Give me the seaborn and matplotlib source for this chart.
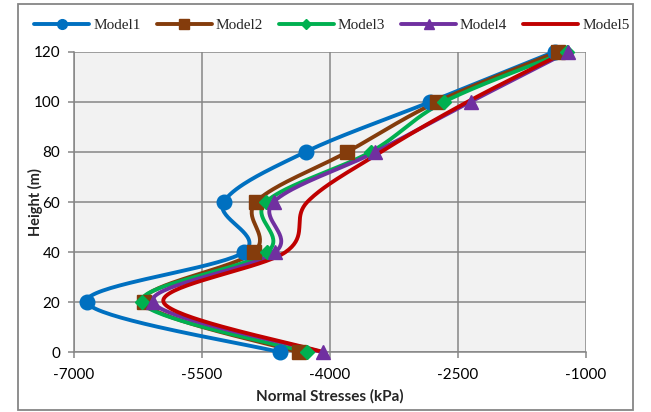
import numpy as np
import matplotlib
matplotlib.use("Agg")
import matplotlib.pyplot as plt
from matplotlib.lines import Line2D
from matplotlib.patches import Rectangle
import seaborn as sns

# Normal stresses along the height for each model
heights = [0, 20, 40, 60, 80, 100, 120]
model1 = [-4580, -6850, -5010, -5245, -4285, -2820, -1365]
model2 = [-4365, -6180, -4890, -4865, -3795, -2740, -1325]
model3 = [-4270, -6205, -4735, -4750, -3520, -2660, -1225]
model4 = [-4085, -6075, -4640, -4660, -3465, -2350, -1205]
model5 = [-4070, -5950, -4520, -4265, -3400, -2385, -1230]

series_names = ["Model1", "Model2", "Model3", "Model4", "Model5"]
series_values = [model1, model2, model3, model4, model5]
colors = ["#0070C0", "#843C0C", "#00B050", "#7030A0", "#C00000"]
markers = ["o", "s", "D", "^", None]
marker_sizes = [10.5, 10.5, 7, 10.5, 0]

x_ticks = [-7000, -5500, -4000, -2500, -1000]
y_ticks = [0, 20, 40, 60, 80, 100, 120]


def smooth_path(xs, ys, n=40):
    """Smoothed polyline through the points (cubic Bezier, Catmull-Rom tangents)."""
    p = np.column_stack([xs, ys]).astype(float)
    padded = np.vstack([p[0], p, p[-1]])
    out = []
    t = np.linspace(0, 1, n)[:, None]
    for i in range(len(p) - 1):
        p0, p1, p2, p3 = padded[i], padded[i + 1], padded[i + 2], padded[i + 3]
        c1 = p1 + (p2 - p0) / 6.0
        c2 = p2 - (p3 - p1) / 6.0
        seg = ((1 - t) ** 3) * p1 + 3 * ((1 - t) ** 2) * t * c1 + 3 * (1 - t) * t ** 2 * c2 + t ** 3 * p2
        out.append(seg if i == 0 else seg[1:])
    seg = np.vstack(out)
    return seg[:, 0], seg[:, 1]


sns.set_theme(style="white")
plt.rcParams["font.family"] = ["Lato", "DejaVu Sans"]

fig = plt.figure(figsize=(6.51, 4.12), dpi=100)
ax = fig.add_axes([74 / 651, 1 - 352.3 / 412, 511.7 / 651, 300.6 / 412])
ax.set_facecolor("#F2F2F2")

for name, vals, col, mk, ms in zip(series_names, series_values, colors, markers, marker_sizes):
    sx, sy = smooth_path(vals, heights)
    sns.lineplot(x=sx, y=sy, sort=False, estimator=None, color=col, linewidth=2.8,
                 ax=ax, legend=False, zorder=3)
    ax.lines[-1].set_clip_on(False)
    if mk is not None:
        ax.plot(vals, heights, linestyle="none", marker=mk, markersize=ms,
                color=col, markeredgecolor=col, zorder=4, clip_on=False)

ax.set_xlim(-7000, -1000)
ax.set_ylim(0, 120)
ax.set_xticks(x_ticks)
ax.set_yticks(y_ticks)
ax.set_xticklabels([str(v) for v in x_ticks], fontsize=11, color="#000000")
ax.set_yticklabels([str(v) for v in y_ticks], fontsize=11, color="#000000")

ax.grid(True, color="#868686", linewidth=1.1)
ax.set_axisbelow(True)
for side in ["top", "right"]:
    ax.spines[side].set_visible(False)
for side in ["left", "bottom"]:
    ax.spines[side].set_color("#868686")
    ax.spines[side].set_linewidth(1.1)
ax.tick_params(axis="both", which="major", direction="out", length=4, width=1.1,
               color="#868686", left=True, bottom=True)
ax.tick_params(axis="y", pad=6)
ax.tick_params(axis="x", pad=7)

ax.set_xlabel("Normal Stresses (kPa)", fontsize=11, fontweight="bold")
ax.set_ylabel("Height (m)", fontsize=10.5, fontweight="bold")
ax.xaxis.set_label_coords(0.5, -0.123)
ax.yaxis.set_label_coords(-0.061, 0.5)

handles = []
for name, col, mk in zip(series_names, colors, markers):
    handles.append(Line2D([0], [0], color=col, linewidth=2.8, marker=mk,
                          markersize=7 if mk != "D" else 5, markeredgecolor=col))
ax.legend(handles, series_names, loc="center", bbox_to_anchor=(332 / 651, 1 - 25 / 412),
          bbox_transform=fig.transFigure, ncol=5, frameon=False,
          prop={"family": "Liberation Serif", "size": 11},
          handlelength=3.6, handletextpad=0.25, columnspacing=1.05, borderaxespad=0)

fig.patches.append(Rectangle((18 / 651, 2 / 412), 615 / 651, 406 / 412,
                             transform=fig.transFigure, fill=False,
                             edgecolor="#868686", linewidth=1.3))

fig.savefig("out.png", dpi=100)
